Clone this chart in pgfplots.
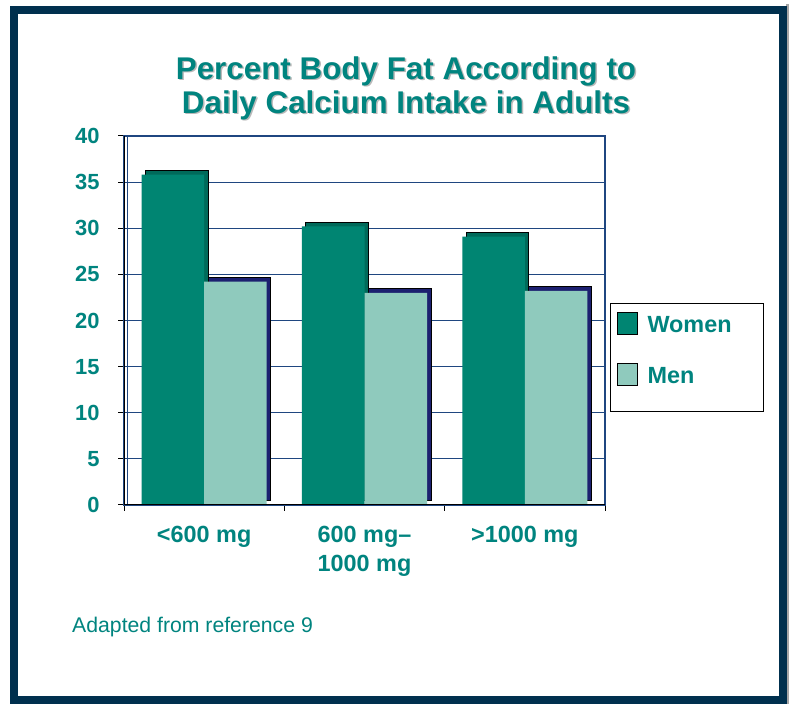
\documentclass[border=0pt]{standalone}
\usepackage{pgfplots}
\pgfplotsset{compat=1.18}
\usepackage{fontspec}
\setmainfont{Liberation Sans}

\definecolor{framec}{HTML}{00304E}
\definecolor{tealtxt}{HTML}{00847F}
\definecolor{women}{HTML}{008572}
\definecolor{womendark}{HTML}{006A5A}
\definecolor{men}{HTML}{8FCABD}
\definecolor{mendark}{HTML}{1C2070}
\definecolor{gridc}{HTML}{1F4680}

% percent body fat: x = calcium intake group (0: <600, 1: 600-1000, 2: >1000 mg)
\pgfplotstableread{
x  women men
0  35.8  24.2
1  30.2  23.0
2  29.1  23.2
}\fatdata

\begin{document}
\begin{tikzpicture}[x=1bp,y=1bp]
\path[use as bounding box] (0,0) rectangle (789,704);
\fill[white] (0,0) rectangle (789,704);
% slide frame
\fill[gray!70] (786,0) rectangle (789,700);
\draw[framec, line width=8bp] (13.5,3.8) rectangle (782.5,693.8);

% title with soft drop shadow
\foreach \yy/\tt in {633/{Percent Body Fat According to},599/{Daily Calcium Intake in Adults}}{
  \node[text=gray!55, font=\fontsize{31.5}{36}\selectfont\bfseries] at (407.5,\yy-1.5) {\tt};
  \node[text=tealtxt, font=\fontsize{31.5}{36}\selectfont\bfseries] at (406,\yy) {\tt};
}

\begin{axis}[
  at={(124bp,199bp)}, anchor=south west,
  scale only axis, width=481bp, height=369bp,
  xmin=-0.5, xmax=2.5, ymin=0, ymax=40,
  ytick={0,5,...,40},
  xtick={0,1,2},
  xticklabels={{<600 mg},{600 mg--\\1000 mg},{>1000 mg}},
  minor xtick={-0.5,0.5,1.5,2.5},
  major x tick style={draw=none},
  tick align=outside,
  tick pos=left,
  major tick length=6bp, minor tick length=6bp,
  tick style={black, line width=1bp},
  axis line style={gridc, line width=1.2bp},
  ymajorgrids,
  major grid style={gridc, line width=1.2bp},
  /pgf/number format/assume math mode=true,
  yticklabel style={font=\fontsize{22}{26}\selectfont\bfseries, text=tealtxt, xshift=-15bp},
  xticklabel style={font=\fontsize{23.5}{29}\selectfont\bfseries, text=tealtxt, align=center, anchor=north, yshift=-12bp},
  ybar, bar width=0.39,
  legend style={
    at={(1.0104,0.5474)}, anchor=north west,
    draw=black, line width=1bp,
    font=\fontsize{23.5}{28}\selectfont\bfseries, text=tealtxt,
    inner xsep=6bp, inner ysep=8bp,
    row sep=12bp,
    legend cell align=left,
    nodes={text height=17.5bp, text depth=17.5bp},
    /tikz/every odd column/.append style={column sep=8bp},
  },
  legend image code/.code={\draw[#1, draw=black, line width=1bp] (0bp,-2bp) rectangle (20bp,20bp);},
]
% depth of the bars: a copy pushed back and up
\addplot[forget plot, bar shift=-0.195, fill=womendark, draw=black, line width=1bp, xshift=4bp, yshift=4bp] table[x=x, y=women] {\fatdata};
\addplot[forget plot, bar shift=0.195, fill=mendark, draw=black, line width=1bp, xshift=4bp, yshift=4bp] table[x=x, y=men] {\fatdata};
% front faces
\addplot[bar shift=-0.195, fill=women, draw=none] table[x=x, y=women] {\fatdata};
\addlegendentry{Women\hspace*{24bp}}
\addplot[bar shift=0.195, fill=men, draw=none] table[x=x, y=men] {\fatdata};
\addlegendentry{Men}
% back wall edge and the front edges of the left and bottom axes
\draw[gridc, line width=1.2bp] ([xshift=3.5bp]rel axis cs:0,0) -- ([xshift=3.5bp]rel axis cs:0,1);
\draw[black, line width=1.3bp] (rel axis cs:0,0) -- (rel axis cs:0,1);
\draw[black, line width=1.3bp] (rel axis cs:0,0) -- (rel axis cs:1,0);
\end{axis}

\node[anchor=west, text=tealtxt, font=\fontsize{21.3}{24}\selectfont, inner sep=0pt] at (72,77) {Adapted from reference 9};
\end{tikzpicture}
\end{document}
